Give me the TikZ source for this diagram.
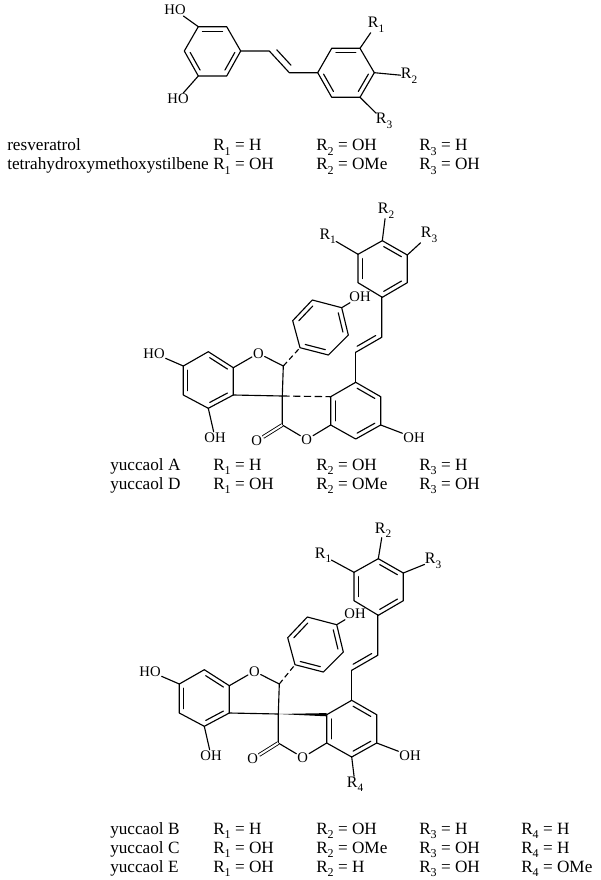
\documentclass[tikz,border=0pt]{standalone}
\usepackage{fontspec}
\setmainfont{Liberation Serif}
\usetikzlibrary{calc}
\newcommand\Lf{\fontsize{11pt}{12pt}\selectfont}
\newcommand\Rf{\fontsize{12pt}{13pt}\selectfont}
\newcommand\Tf{\fontsize{12.9pt}{15pt}\selectfont}
\newcommand\Rl[1]{R\raisebox{-.28em}{\fontsize{8.5pt}{9pt}\selectfont #1}}
\newcommand\Rt[1]{R\raisebox{-.28em}{\fontsize{9pt}{9pt}\selectfont #1}}
\tikzset{
  bond/.style={line width=.85pt,line cap=round,line join=round,black},
  atomlabel/.style={font=\Lf,inner sep=.6pt,text=black},
  rlabel/.style={font=\Rf,inner sep=0pt,text=black},
  tblcell/.style={font=\Tf,anchor=base west,inner sep=0pt,text=black},
  co/.style={bond,double,double distance=1.5pt,line width=.65pt,line cap=butt},
  hashed/.style={bond,line cap=butt,dash pattern=on 5.5pt off 2.6pt},
  hashshort/.style={bond,line cap=butt,dash pattern=on 4pt off 2.5pt}
}
\newcommand\dbl[3]{\draw[bond,shorten <=1.2pt,shorten >=1.2pt] ($(#1)!.18!(#3)$) -- ($(#2)!.18!(#3)$);}
\newcommand\ring[6]{\draw[bond] (#1) -- (#2) -- (#3) -- (#4) -- (#5) -- (#6) -- cycle;}
% common skeleton of the spiro molecules; #1 prefix, #2 shift of the phenol part
\newcommand\spiromol[2]{%
  \coordinate (#1a1) at (208.3,351.7); \coordinate (#1a2) at (233.3,367.7);
  \coordinate (#1a3) at (233.3,395); \coordinate (#1a4) at (208.3,408.3);
  \coordinate (#1a5) at (183.3,395); \coordinate (#1a6) at (183.3,366);
  \coordinate (#1ac) at (208.3,380);
  \coordinate (#1ch) at (283.3,366); \coordinate (#1sp) at (282.3,396);
  \coordinate (#1cc) at (282.3,425);
  \node[atomlabel] (#1ofu) at (258.3,353.3) {O};
  \node[atomlabel] (#1ola) at (306.7,439.5) {O};
  \node[atomlabel] (#1oco) at (256.7,441) {O};
  \node[atomlabel] (#1hoa) at (154,353.3) {HO};
  \node[atomlabel] (#1oha) at (215,437.7) {OH};
  \coordinate (#1b1) at (355.7,382.3); \coordinate (#1b2) at (380.7,396.7);
  \coordinate (#1b3) at (380.7,425); \coordinate (#1b4) at (355.7,439);
  \coordinate (#1b5) at (330.7,425); \coordinate (#1b6) at (330.7,396.7);
  \coordinate (#1bc) at (355.7,410.8);
  \node[atomlabel] (#1ohb) at (414,437.7) {OH};
  \coordinate (#1v1) at (381.7,296.7); \coordinate (#1v2) at (381.7,337.3);
  \coordinate (#1v3) at (355.7,352.3); \coordinate (#1vc) at (356,323);
  \coordinate (#1t1) at (382.3,240.7); \coordinate (#1t2) at (407.3,255);
  \coordinate (#1t3) at (407.3,282.7); \coordinate (#1t4) at (382.3,297.3);
  \coordinate (#1t5) at (358,282.7); \coordinate (#1t6) at (358,254.3);
  \coordinate (#1tc) at (382.5,269);
  \begin{scope}[shift={(#2)}]
    \coordinate (#1p1) at (300,347.7); \coordinate (#1p2) at (292.7,320.7);
    \coordinate (#1p3) at (312.3,300); \coordinate (#1p4) at (341.7,307.7);
    \coordinate (#1p5) at (348.3,335); \coordinate (#1p6) at (328.3,355);
    \coordinate (#1pc) at (320.5,327.5);
    \node[atomlabel] (#1ohp) at (360,296.7) {OH};
  \end{scope}
  \ring{#1a1}{#1a2}{#1a3}{#1a4}{#1a5}{#1a6}
  \dbl{#1a1}{#1a2}{#1ac}\dbl{#1a3}{#1a4}{#1ac}\dbl{#1a5}{#1a6}{#1ac}
  \draw[bond] (#1a6) -- (#1hoa);
  \draw[bond] (#1a4) -- (#1oha);
  \draw[bond] (#1a2) -- (#1ofu);
  \draw[bond] (#1ofu) -- (#1ch);
  \draw[bond] (#1a3) -- (#1sp) -- (#1cc);
  \draw[bond] (#1ch) -- (#1sp);
  \draw[bond] (#1cc) -- (#1ola);
  \draw[co] (#1cc) -- (#1oco);
  \draw[bond] (#1b5) -- (#1ola);
  \ring{#1b1}{#1b2}{#1b3}{#1b4}{#1b5}{#1b6}
  \dbl{#1b1}{#1b2}{#1bc}\dbl{#1b3}{#1b4}{#1bc}\dbl{#1b5}{#1b6}{#1bc}
  \draw[bond] (#1b3) -- (#1ohb);
  \draw[bond] (#1b1) -- (#1v3);
  \draw[bond] (#1v3) -- (#1v2) -- (#1v1);
  \dbl{#1v2}{#1v3}{#1vc}
  \ring{#1t1}{#1t2}{#1t3}{#1t4}{#1t5}{#1t6}
  \dbl{#1t1}{#1t2}{#1tc}\dbl{#1t3}{#1t4}{#1tc}\dbl{#1t5}{#1t6}{#1tc}
  \ring{#1p1}{#1p2}{#1p3}{#1p4}{#1p5}{#1p6}
  \dbl{#1p2}{#1p3}{#1pc}\dbl{#1p4}{#1p5}{#1pc}\dbl{#1p6}{#1p1}{#1pc}
  \draw[bond] (#1p4) -- (#1ohp);
  \draw[hashshort] (#1ch) -- (#1p1);
}
\newcommand\cell[4]{\node[tblcell] (#1) at (#2,#3) {#4};}
\begin{document}
\begin{tikzpicture}[x=.75pt,y=-.75pt]
\useasboundingbox (0,0) rectangle (600,880);
% --- stilbene
\coordinate (a1) at (198.3,26.7); \coordinate (a2) at (226.7,26.7);
\coordinate (a3) at (240.7,51); \coordinate (a4) at (226.7,76);
\coordinate (a5) at (198.3,76); \coordinate (a6) at (184.3,51);
\coordinate (ac) at (212.5,51);
\coordinate (b1) at (317.7,72.7); \coordinate (b2) at (331.7,48.3);
\coordinate (b3) at (360,48.3); \coordinate (b4) at (374.3,72.7);
\coordinate (b5) at (360,97.3); \coordinate (b6) at (331.7,97.3);
\coordinate (bc) at (346,72.7);
\coordinate (v1) at (269.3,51); \coordinate (v2) at (289.3,72.7);
\coordinate (vc) at (305,38);
\node[atomlabel] (hot) at (175,10) {HO};
\node[atomlabel] (hob) at (178,99) {HO};
\node[rlabel] (r1) at (376,25) {\Rl{1}};
\node[rlabel] (r2) at (409,76) {\Rl{2}};
\node[rlabel] (r3) at (384,121) {\Rl{3}};
\ring{a1}{a2}{a3}{a4}{a5}{a6}
\dbl{a1}{a2}{ac}\dbl{a3}{a4}{ac}\dbl{a5}{a6}{ac}
\ring{b1}{b2}{b3}{b4}{b5}{b6}
\dbl{b2}{b3}{bc}\dbl{b4}{b5}{bc}\dbl{b6}{b1}{bc}
\draw[bond] (a3) -- (v1) -- (v2) -- (b1);
\dbl{v1}{v2}{vc}
\draw[bond] (a1) -- (hot);
\draw[bond] (a5) -- (hob);
\draw[bond] (b3) -- (r1);
\draw[bond] (b4) -- (r2);
\draw[bond] (b5) -- (r3);
% --- yuccaol A/D
\spiromol{m}{0,0}
\draw[hashed] (msp) -- (mb6);
\node[rlabel] (mr1) at (327.7,236.5) {\Rl{1}};
\node[rlabel] (mr2) at (386,211) {\Rl{2}};
\node[rlabel] (mr3) at (429,235) {\Rl{3}};
\draw[bond] (mt6) -- (mr1);
\draw[bond] (mt1) -- (mr2);
\draw[bond] (mt2) -- (mr3);
% --- yuccaol B/C/E
\begin{scope}[shift={(-4,318)}]
\spiromol{n}{-1,-1}
\fill[black] ($(nsp)$) -- ($(nb6)+(0,-1.6)$) -- ($(nb6)+(0,1.6)$) -- cycle;
\node[rlabel] (nr1) at (327,237.5) {\Rl{1}};
\node[rlabel] (nr2) at (387,212) {\Rl{2}};
\node[rlabel] (nr3) at (437,243) {\Rl{3}};
\node[rlabel] (nr4) at (359,466) {\Rl{4}};
\draw[bond] (nt6) -- (nr1);
\draw[bond] (nt1) -- (nr2);
\draw[bond] (nt2) -- (nr3);
\draw[bond] (nb4) -- (nr4);
\end{scope}
% --- tables
\cell{l1}{7}{151}{resveratrol}
\cell{l1a}{213}{151}{\Rt{1} = H}
\cell{l1b}{316}{151}{\Rt{2} = OH}
\cell{l1c}{419}{151}{\Rt{3} = H}
\cell{l2}{7}{170}{tetrahydroxymethoxystilbene}
\cell{l2a}{213}{170}{\Rt{1} = OH}
\cell{l2b}{316}{170}{\Rt{2} = OMe}
\cell{l2c}{419}{170}{\Rt{3} = OH}
\cell{l3}{110}{470}{yuccaol A}
\cell{l3a}{213}{470}{\Rt{1} = H}
\cell{l3b}{316}{470}{\Rt{2} = OH}
\cell{l3c}{419}{470}{\Rt{3} = H}
\cell{l4}{110}{489}{yuccaol D}
\cell{l4a}{213}{489}{\Rt{1} = OH}
\cell{l4b}{316}{489}{\Rt{2} = OMe}
\cell{l4c}{419}{489}{\Rt{3} = OH}
\cell{l5}{110}{834}{yuccaol B}
\cell{l5a}{213}{834}{\Rt{1} = H}
\cell{l5b}{316}{834}{\Rt{2} = OH}
\cell{l5c}{419}{834}{\Rt{3} = H}
\cell{l5d}{521}{834}{\Rt{4} = H}
\cell{l6}{110}{853}{yuccaol C}
\cell{l6a}{213}{853}{\Rt{1} = OH}
\cell{l6b}{316}{853}{\Rt{2} = OMe}
\cell{l6c}{419}{853}{\Rt{3} = OH}
\cell{l6d}{521}{853}{\Rt{4} = H}
\cell{l7}{110}{872}{yuccaol E}
\cell{l7a}{213}{872}{\Rt{1} = OH}
\cell{l7b}{316}{872}{\Rt{2} = H}
\cell{l7c}{419}{872}{\Rt{3} = OH}
\cell{l7d}{521}{872}{\Rt{4} = OMe}
\end{tikzpicture}
\end{document}
